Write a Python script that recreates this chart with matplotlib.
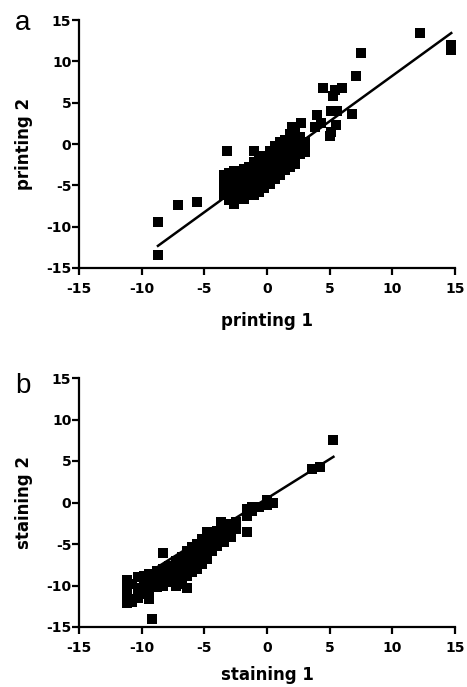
import matplotlib
matplotlib.use("Agg")
import matplotlib.pyplot as plt
import numpy as np

plt.rcParams['font.family'] = ['DejaVu Sans']

# ---- Panel a data: printing 1 vs printing 2 ----
printing1 = [
    -8.7, -8.7, -7.1, -5.6, -3.2, 12.2, 14.7, 14.7, 7.5, 7.1, 4.5, 5.4, 6.0, 5.3, 6.8,
    5.1, 5.6, 5.0, 5.1, 5.5, 4.0, 3.8, 4.3, 2.7, 2.0, 3.0,
    -3.4, -3.4, -3.4, -3.4,
    -3.0, -3.0, -3.0, -3.0, -3.0,
    -2.6, -2.6, -2.6, -2.6, -2.6,
    -2.2, -2.2, -2.2, -2.2,
    -1.8, -1.8, -1.8, -1.8, -1.8,
    -1.4, -1.4, -1.4, -1.4,
    -1.0, -1.0, -1.0, -1.0, -1.0, -1.0,
    -0.6, -0.6, -0.6, -0.6, -0.6,
    -0.2, -0.2, -0.2, -0.2, -0.2,
    0.2, 0.2, 0.2, 0.2, 0.2,
    0.6, 0.6, 0.6, 0.6, 0.6,
    1.0, 1.0, 1.0, 1.0, 1.0,
    1.4, 1.4, 1.4, 1.4, 1.4,
    1.8, 1.8, 1.8, 1.8, 1.8,
    2.2, 2.2, 2.2, 2.2, 2.2,
    2.6, 2.6, 2.6,
    3.0, 3.0,
]
printing2 = [
    -9.4, -13.4, -7.4, -7.0, -0.9, 13.4, 12.0, 11.4, 11.0, 8.2, 6.8, 6.5, 6.8, 5.8, 3.6,
    4.0, 4.0, 1.0, 1.5, 2.3, 3.5, 2.0, 2.6, 2.6, 2.0, -1.0,
    -4.5, -5.5, -6.2, -3.8,
    -3.5, -4.8, -5.8, -6.8, -4.2,
    -4.0, -5.2, -6.3, -7.2, -3.3,
    -3.6, -4.6, -5.6, -6.6,
    -3.0, -4.0, -5.0, -6.0, -6.6,
    -2.8, -3.8, -4.8, -5.8,
    -0.8, -2.2, -3.4, -4.4, -5.4, -6.2,
    -1.8, -3.0, -4.0, -5.0, -5.8,
    -1.5, -2.5, -3.5, -4.5, -5.3,
    -0.8, -1.8, -2.8, -3.8, -4.8,
    -0.2, -1.2, -2.2, -3.2, -4.2,
    0.3, -0.8, -1.8, -2.8, -3.8,
    0.5, -0.5, -1.5, -2.5, -3.2,
    1.2, 0.0, -1.0, -2.0, -2.8,
    1.5, 0.5, -0.5, -1.5, -2.4,
    0.8, -0.2, -1.2,
    0.2, -0.8,
]
fit_a_slope = 1.10
fit_a_intercept = -2.75

# ---- Panel b data: staining 1 vs staining 2 ----
staining1 = [
    -11.2, -11.2, -11.2, -11.2,
    -10.8, -10.8, -10.8,
    -10.3, -10.3, -10.3,
    -9.8, -9.8, -9.8,
    -9.4, -9.4, -9.4, -9.4,
    -9.2,
    -8.8, -8.8, -8.8,
    -8.3, -8.3, -8.3, -8.3,
    -7.8, -7.8, -7.8,
    -7.3, -7.3, -7.3, -7.3,
    -6.8, -6.8, -6.8, -6.8,
    -6.4, -6.4, -6.4, -6.4, -6.4,
    -6.0, -6.0, -6.0, -6.0,
    -5.6, -5.6, -5.6, -5.6,
    -5.2, -5.2, -5.2, -5.2,
    -4.8, -4.8, -4.8, -4.8,
    -4.4, -4.4, -4.4,
    -4.0, -4.0, -4.0,
    -3.7,
    -3.4, -3.4, -3.4,
    -2.9, -2.9, -2.9,
    -2.5, -2.5,
    -1.6, -1.6, -1.6,
    -1.2, -1.2,
    -0.6,
    0.0, 0.0,
    0.5,
    3.6, 4.2, 5.3,
]
staining2 = [
    -9.3, -10.2, -11.2, -12.1,
    -9.8, -11.6, -12.0,
    -9.0, -10.3, -11.5,
    -8.8, -10.0, -11.0,
    -8.6, -9.6, -10.6, -11.6,
    -14.0,
    -8.2, -9.2, -10.2,
    -6.1, -8.0, -9.0, -10.0,
    -7.6, -8.6, -9.6,
    -7.0, -8.0, -9.0, -10.0,
    -6.6, -7.6, -8.6, -9.8,
    -5.8, -6.8, -7.8, -8.8, -10.3,
    -5.4, -6.4, -7.4, -8.4,
    -5.0, -6.0, -7.0, -8.0,
    -4.4, -5.4, -6.4, -7.4,
    -3.6, -4.6, -5.6, -6.8,
    -3.8, -4.8, -5.8,
    -3.4, -4.4, -5.2,
    -2.3,
    -3.0, -4.0, -4.8,
    -2.6, -3.6, -4.2,
    -2.4, -3.2,
    -3.5, -1.6, -0.8,
    -1.0, -0.6,
    -0.5,
    0.3, -0.3,
    0.0,
    4.0, 4.3, 7.5,
]
fit_b_slope = 0.946
fit_b_intercept = 0.49

ticks = [-15, -10, -5, 0, 5, 10, 15]

fig = plt.figure(figsize=(4.67, 6.87), dpi=100)
W, H = 467, 687
LEFT, RIGHT = 79, 455

def make_axes(top_px, bottom_px):
    return fig.add_axes([LEFT / W, 1 - bottom_px / H, (RIGHT - LEFT) / W, (bottom_px - top_px) / H])

panels = [
    (make_axes(20, 268), 20, 268, printing1, printing2, fit_a_slope, fit_a_intercept,
     'printing 1', 'printing 2', 'a', 30, 44),
    (make_axes(378, 627), 378, 627, staining1, staining2, fit_b_slope, fit_b_intercept,
     'staining 1', 'staining 2', 'b', 393, 39),
]

for ax, top, bot, xs, ys, slope, intercept, xl, yl, letter, base_px, xlab_off in panels:
    hpx = bot - top
    wpx = RIGHT - LEFT
    xs = np.asarray(xs)
    ys = np.asarray(ys)
    ax.plot(xs, ys, linestyle='none', marker='s', markersize=6.5,
            markerfacecolor='black', markeredgecolor='black', markeredgewidth=0, clip_on=False)
    lx = np.array([xs.min(), xs.max()])
    ax.plot(lx, slope * lx + intercept, color='black', linewidth=1.8)
    ax.set_xlim(-15, 15)
    ax.set_ylim(-15, 15)
    ax.set_xticks(ticks)
    ax.set_yticks(ticks)
    ax.set_xticklabels([str(t) for t in ticks], fontweight='bold', fontsize=10)
    ax.set_yticklabels([str(t) for t in ticks], fontweight='bold', fontsize=10)
    ax.spines['top'].set_visible(False)
    ax.spines['right'].set_visible(False)
    ax.spines['left'].set_linewidth(1.6)
    ax.spines['bottom'].set_linewidth(1.6)
    ax.tick_params(direction='out', length=5, width=1.6, colors='black')
    ax.tick_params(axis='x', pad=5)
    ax.tick_params(axis='y', pad=0.5)
    ax.set_xlabel(xl, fontweight='bold', fontsize=12)
    ax.set_ylabel(yl, fontweight='bold', fontsize=12)
    ax.xaxis.set_label_coords(0.5, -xlab_off / hpx)
    ax.yaxis.set_label_coords(-(LEFT - 33) / wpx, 0.5)
    fig.text(15 / W, 1 - base_px / H, letter, fontsize=20, family='Liberation Sans',
             ha='left', va='baseline')

fig.savefig('out.png', dpi=100)
